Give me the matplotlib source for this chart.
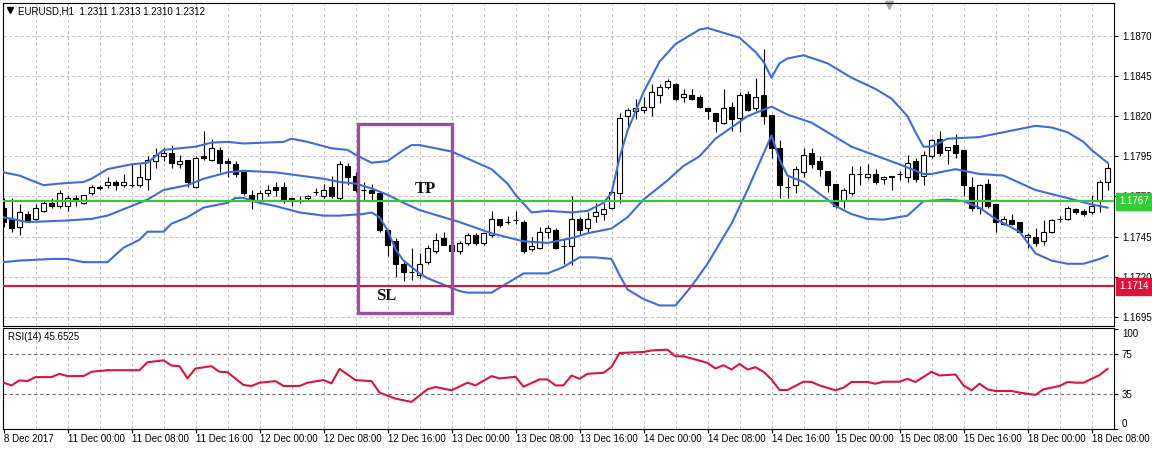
import numpy as np
import matplotlib.pyplot as plt
from matplotlib.patches import Rectangle

plt.rcParams['font.family'] = ['Liberation Sans', 'DejaVu Sans']

# EURUSD H1 candles, bar 0 = 8 Dec 2017 16:00
opens = [1.1763, 1.1756, 1.1751, 1.1759, 1.1756, 1.1761, 1.1766, 1.1764, 1.1764, 1.1769,
         1.1766, 1.1772, 1.1775, 1.1777, 1.1779, 1.1777, 1.1777, 1.1777, 1.1781, 1.1792,
         1.1795, 1.1797, 1.1790, 1.1793, 1.1776, 1.1795, 1.1793, 1.1799, 1.1792, 1.1790,
         1.1785, 1.1771, 1.1768, 1.1772, 1.1776, 1.1776, 1.1769, 1.1767, 1.1769, 1.1773,
         1.1770, 1.1776, 1.1769, 1.1789, 1.1783, 1.1774, 1.1774, 1.1772, 1.1749, 1.1742,
         1.1728, 1.1723, 1.1721, 1.1729, 1.1736, 1.1744, 1.1740, 1.1736, 1.1741, 1.1746,
         1.1741, 1.1746, 1.1756, 1.1754, 1.1755, 1.1754, 1.1737, 1.1738, 1.1748, 1.1749,
         1.1739, 1.1739, 1.1756, 1.1750, 1.1758, 1.1759, 1.1763, 1.1772, 1.1820, 1.1823,
         1.1824, 1.1826, 1.1833, 1.1838, 1.1840, 1.1832, 1.1833, 1.1832, 1.1825, 1.1822,
         1.1816, 1.1826, 1.1819, 1.1834, 1.1825, 1.1833, 1.1821, 1.1800, 1.1776, 1.1777,
         1.1785, 1.1797, 1.1792, 1.1786, 1.1778, 1.1767, 1.1772, 1.1784, 1.1782, 1.1784,
         1.1781, 1.1783, 1.1784, 1.1782, 1.1792, 1.1783, 1.1795, 1.1806, 1.1799, 1.1802,
         1.1799, 1.1776, 1.1763, 1.1778, 1.1765, 1.1753, 1.1755, 1.1754, 1.1745, 1.1745,
         1.1742, 1.1748, 1.1756, 1.1756, 1.1762, 1.1761, 1.1760, 1.1768, 1.1779]
highs = [1.1769, 1.1769, 1.1765, 1.1761, 1.1765, 1.1767, 1.1769, 1.1774, 1.1771, 1.1771,
         1.1771, 1.1777, 1.1777, 1.1782, 1.1780, 1.1784, 1.1790, 1.1790, 1.1795, 1.1800,
         1.1800, 1.1802, 1.1796, 1.1793, 1.1795, 1.1811, 1.1806, 1.1801, 1.1794, 1.1792,
         1.1786, 1.1774, 1.1774, 1.1777, 1.1779, 1.1779, 1.1769, 1.1770, 1.1771, 1.1775,
         1.1778, 1.1783, 1.1792, 1.1791, 1.1785, 1.1779, 1.1778, 1.1773, 1.1749, 1.1744,
         1.1730, 1.1738, 1.1735, 1.1740, 1.1747, 1.1748, 1.1741, 1.1742, 1.1747, 1.1747,
         1.1747, 1.1761, 1.1756, 1.1758, 1.1761, 1.1755, 1.1745, 1.1751, 1.1752, 1.1750,
         1.1744, 1.1770, 1.1757, 1.1760, 1.1766, 1.1766, 1.1776, 1.1822, 1.1825, 1.1831,
         1.1832, 1.1840, 1.1840, 1.1843, 1.1841, 1.1837, 1.1837, 1.1833, 1.1825, 1.1822,
         1.1837, 1.1829, 1.1835, 1.1836, 1.1844, 1.1862, 1.1821, 1.1805, 1.1782, 1.1789,
         1.1800, 1.1800, 1.1795, 1.1786, 1.1778, 1.1775, 1.1789, 1.1789, 1.1790, 1.1787,
         1.1783, 1.1783, 1.1786, 1.1796, 1.1794, 1.1798, 1.1806, 1.1811, 1.1801, 1.1809,
         1.1799, 1.1782, 1.1778, 1.1781, 1.1765, 1.1758, 1.1759, 1.1754, 1.1747, 1.1750,
         1.1755, 1.1756, 1.1758, 1.1764, 1.1763, 1.1762, 1.1771, 1.1780, 1.1791]
lows = [1.1751, 1.1748, 1.1746, 1.1754, 1.1755, 1.1760, 1.1763, 1.1763, 1.1761, 1.1764,
        1.1765, 1.1771, 1.1774, 1.1775, 1.1774, 1.1776, 1.1776, 1.1776, 1.1774, 1.1788,
        1.1792, 1.1788, 1.1788, 1.1776, 1.1775, 1.1793, 1.1792, 1.1785, 1.1782, 1.1782,
        1.1771, 1.1762, 1.1767, 1.1770, 1.1770, 1.1766, 1.1764, 1.1766, 1.1768, 1.1771,
        1.1769, 1.1769, 1.1768, 1.1777, 1.1773, 1.1768, 1.1768, 1.1748, 1.1733, 1.1720,
        1.1717, 1.1718, 1.1719, 1.1728, 1.1735, 1.1740, 1.1735, 1.1734, 1.1740, 1.1740,
        1.1740, 1.1745, 1.1751, 1.1753, 1.1753, 1.1735, 1.1736, 1.1737, 1.1744, 1.1737,
        1.1728, 1.1727, 1.1746, 1.1747, 1.1754, 1.1755, 1.1762, 1.1766, 1.1812, 1.1818,
        1.1822, 1.1820, 1.1828, 1.1837, 1.1830, 1.1829, 1.1830, 1.1825, 1.1818, 1.1810,
        1.1815, 1.1811, 1.1810, 1.1823, 1.1823, 1.1815, 1.1794, 1.1769, 1.1769, 1.1772,
        1.1782, 1.1788, 1.1783, 1.1773, 1.1763, 1.1763, 1.1771, 1.1777, 1.1781, 1.1778,
        1.1778, 1.1774, 1.1780, 1.1779, 1.1779, 1.1777, 1.1794, 1.1795, 1.1790, 1.1794,
        1.1770, 1.1761, 1.1759, 1.1763, 1.1748, 1.1752, 1.1752, 1.1747, 1.1738, 1.1739,
        1.1740, 1.1747, 1.1754, 1.1755, 1.1759, 1.1758, 1.1759, 1.1760, 1.1774]
closes = [1.1754, 1.1750, 1.1760, 1.1755, 1.1763, 1.1766, 1.1764, 1.1772, 1.1769, 1.1767,
          1.1771, 1.1776, 1.1776, 1.1779, 1.1777, 1.1779, 1.1777, 1.1782, 1.1793, 1.1796,
          1.1797, 1.1791, 1.1792, 1.1779, 1.1794, 1.1794, 1.1800, 1.1791, 1.1791, 1.1784,
          1.1772, 1.1767, 1.1772, 1.1774, 1.1774, 1.1767, 1.1767, 1.1767, 1.1770, 1.1773,
          1.1774, 1.1770, 1.1790, 1.1782, 1.1774, 1.1774, 1.1772, 1.1749, 1.1740, 1.1728,
          1.1723, 1.1723, 1.1728, 1.1738, 1.1743, 1.1740, 1.1736, 1.1741, 1.1746, 1.1741,
          1.1747, 1.1756, 1.1752, 1.1754, 1.1755, 1.1736, 1.1739, 1.1748, 1.1750, 1.1738,
          1.1739, 1.1756, 1.1749, 1.1756, 1.1760, 1.1762, 1.1773, 1.1819, 1.1824, 1.1825,
          1.1826, 1.1835, 1.1838, 1.1842, 1.1831, 1.1834, 1.1831, 1.1826, 1.1823, 1.1817,
          1.1825, 1.1818, 1.1833, 1.1824, 1.1832, 1.1820, 1.1800, 1.1777, 1.1776, 1.1787,
          1.1796, 1.1790, 1.1787, 1.1777, 1.1764, 1.1774, 1.1784, 1.1784, 1.1784, 1.1779,
          1.1782, 1.1782, 1.1784, 1.1791, 1.1781, 1.1796, 1.1805, 1.1797, 1.1801, 1.1797,
          1.1777, 1.1763, 1.1777, 1.1764, 1.1754, 1.1756, 1.1753, 1.1748, 1.1746, 1.1741,
          1.1748, 1.1755, 1.1756, 1.1763, 1.1760, 1.1759, 1.1764, 1.1779, 1.1788]

# Bollinger bands, read at turning points (bar, price)
upper_bar = [0, 2, 5, 7, 10, 11, 13, 16, 18, 19, 20, 24, 26, 28, 30, 35, 36, 38, 41, 43,
             44, 46, 48, 50, 51, 52, 56, 61, 63, 64, 66, 68, 71, 73, 75, 76, 77, 78, 80, 82,
             84, 87, 88, 90, 92, 94, 95, 96, 97, 98, 100, 103, 106, 109, 111, 113, 114, 115, 116, 118,
             122, 125, 129, 131, 133, 135, 136, 138]
upper_band = [1.1785, 1.1783, 1.1777, 1.1778, 1.1779, 1.1781, 1.1787, 1.1790, 1.1791, 1.1795,
              1.1799, 1.1801, 1.18035, 1.1804, 1.1803, 1.1804, 1.1806, 1.1804, 1.1800, 1.1799,
              1.1796, 1.1791, 1.1792, 1.1799, 1.1802, 1.1802, 1.1798, 1.1787, 1.1778, 1.1771,
              1.1760, 1.1761, 1.1760, 1.1761, 1.1766, 1.1772, 1.1794, 1.1811, 1.1835, 1.1854,
              1.1865, 1.1874, 1.1875, 1.1872, 1.1869, 1.1860, 1.1854, 1.1844, 1.1853, 1.1856,
              1.1858, 1.1853, 1.1844, 1.1837, 1.1831, 1.1820, 1.1810, 1.1801, 1.1801, 1.1806,
              1.1807, 1.1810, 1.1814, 1.1813, 1.1810, 1.1804, 1.1799, 1.1791]
middle_bar = [0, 3, 8, 11, 13, 16, 18, 20, 23, 25, 28, 30, 34, 37, 40, 42, 44, 46, 48, 50,
              52, 55, 57, 61, 65, 68, 71, 73, 76, 78, 80, 83, 85, 87, 89, 93, 96, 98, 101, 104,
              106, 109, 112, 115, 116, 119, 120, 122, 125, 129, 133, 136, 138]
middle_band = [1.1757, 1.1754, 1.1755, 1.1756, 1.1758, 1.1764, 1.1768, 1.1774, 1.1777, 1.1781,
               1.1785, 1.1786, 1.1785, 1.1783, 1.1781, 1.1779, 1.1778, 1.1775, 1.1771, 1.1766,
               1.17615, 1.1757, 1.1754, 1.1747, 1.1742, 1.1741, 1.1744, 1.1747, 1.1750, 1.1757,
               1.1768, 1.1780, 1.1789, 1.1795, 1.1806, 1.1820, 1.1826, 1.1821, 1.1816, 1.1807,
               1.1801, 1.17955, 1.1790, 1.1784, 1.1784, 1.1787, 1.1786, 1.1784, 1.1783, 1.1774,
               1.1769, 1.1765, 1.1763]
lower_bar = [0, 2, 6, 8, 10, 13, 15, 17, 18, 20, 21, 23, 25, 28, 29, 30, 32, 34, 37, 40,
             42, 45, 46, 47, 48, 49, 50, 52, 53, 55, 57, 58, 61, 63, 65, 68, 70, 72, 74, 76,
             77, 78, 80, 82, 84, 86, 88, 91, 93, 96, 97, 98, 100, 103, 104, 106, 108, 110, 113, 115,
             118, 120, 122, 124, 127, 129, 131, 133, 135, 137, 138]
lower_band = [1.1729, 1.1730, 1.1731, 1.1731, 1.1729, 1.1729, 1.1738, 1.1743, 1.1748, 1.1748,
              1.1753, 1.1757, 1.1763, 1.1766, 1.1769, 1.1769, 1.1766, 1.1764, 1.1760, 1.1758,
              1.1758, 1.1759, 1.1760, 1.1757, 1.1749, 1.1737, 1.1730, 1.1722, 1.1719, 1.1715,
              1.1711, 1.1710, 1.1710, 1.1716, 1.1722, 1.1722, 1.1726, 1.1732, 1.1732, 1.1731,
              1.1721, 1.1712, 1.1706, 1.1702, 1.1702, 1.1714, 1.1728, 1.1753, 1.1774, 1.1808,
              1.1793, 1.1783, 1.1779, 1.1768, 1.1764, 1.1759, 1.1756, 1.17555, 1.1758, 1.1767,
              1.1768, 1.1767, 1.1763, 1.1756, 1.1748, 1.17345, 1.1730, 1.1728, 1.1728, 1.1731,
              1.1733]

# RSI(14)
rsi_bar = [0, 1, 2, 3, 4, 6, 7, 8, 10, 11, 13, 17, 18, 20, 21, 22, 23, 24, 26, 27,
           28, 30, 31, 32, 34, 35, 37, 38, 40, 41, 42, 44, 46, 47, 49, 51, 53, 54, 56, 58,
           59, 61, 62, 64, 65, 67, 68, 69, 70, 71, 72, 73, 75, 76, 77, 80, 81, 83, 84, 85,
           87, 88, 89, 90, 91, 92, 93, 94, 95, 96, 97, 98, 100, 101, 102, 104, 105, 106, 108, 109,
           110, 112, 113, 114, 116, 117, 119, 120, 121, 122, 123, 124, 126, 127, 129, 130, 132, 133, 134, 135,
           137, 138]
rsi_val = [46.3, 43.6, 48.6, 47.9, 51.9, 51.9, 55.2, 52.9, 52.9, 57.2, 58.8, 58.8, 66.7, 68.7, 63.4, 62.8, 50.6, 60.5, 62.8, 57.2,
           56.8, 44.0, 43.0, 46.3, 47.9, 43.0, 43.0, 46.3, 48.9, 45.6, 60.1, 48.9, 47.9, 36.4, 30.4, 27.1, 39.7, 42.0, 38.7, 46.3,
           43.6, 52.9, 50.6, 52.2, 42.3, 49.6, 49.6, 43.6, 43.6, 53.5, 50.2, 55.2, 56.2, 62.1, 76.0, 77.0, 78.6, 79.3, 72.7, 72.7,
           68.4, 66.1, 60.5, 63.8, 59.5, 65.1, 59.5, 61.8, 57.2, 49.6, 39.0, 39.0, 47.3, 47.0, 43.6, 38.7, 41.3, 47.0, 47.0, 45.3,
           47.3, 47.3, 50.2, 47.0, 57.2, 53.5, 54.5, 43.6, 38.7, 45.3, 39.7, 38.0, 38.0, 36.4, 34.1, 39.7, 43.0, 47.0, 46.3, 46.3,
           53.9, 60.1]

price_levels = [1.1695, 1.1720, 1.1745, 1.1770, 1.1795, 1.1820, 1.1845, 1.1870]
rsi_levels = [0, 35, 75, 100]
time_bars = [0, 8, 16, 24, 32, 40, 48, 56, 64, 72, 80, 88, 96, 104, 112, 120, 128, 136]
time_labels = ['8 Dec 2017', '11 Dec 00:00', '11 Dec 08:00', '11 Dec 16:00', '12 Dec 00:00',
               '12 Dec 08:00', '12 Dec 16:00', '13 Dec 00:00', '13 Dec 08:00', '13 Dec 16:00',
               '14 Dec 00:00', '14 Dec 08:00', '14 Dec 16:00', '15 Dec 00:00', '15 Dec 08:00',
               '15 Dec 16:00', '18 Dec 00:00', '18 Dec 08:00']
tp_price = 1.1767
sl_price = 1.1714

# trade box drawn on the chart (bars / prices)
box_left, box_right = 44.35, 56.1
box_low, box_high = 1.16971, 1.18150

FS = 7.0
W, H = 1152, 449
fig = plt.figure(figsize=(W / 100, H / 100), dpi=100)
ax = fig.add_axes([2.5 / W, 1 - 326 / H, 1111 / W, 323.5 / H])
rsi_ax = fig.add_axes([2.5 / W, 1 - 429 / H, 1111 / W, 101 / H])

grid_kw = dict(color='#c4c4c4', lw=0.75, ls=(0, (3, 2.5)), zorder=0)
for lvl in price_levels:
    ax.axhline(lvl, **grid_kw)
for g in range(4, 139, 4):
    ax.axvline(g, **grid_kw)
    rsi_ax.axvline(g, **grid_kw)

# candles
bars = np.arange(len(opens))
o = np.array(opens)
c = np.array(closes)
ax.vlines(bars, lows, highs, color='black', lw=0.8, zorder=2)
body_colors = ['white' if cc >= oo else 'black' for oo, cc in zip(o, c)]
ax.bar(bars, c - o, bottom=o, width=0.55, color=body_colors, edgecolor='black',
       linewidth=0.8, zorder=3)

# bollinger bands
blue = '#4169e1'
ax.plot(upper_bar, upper_band, color=blue, lw=1.5, zorder=4)
ax.plot(middle_bar, middle_band, color=blue, lw=1.5, zorder=4)
ax.plot(lower_bar, lower_band, color=blue, lw=1.5, zorder=4)

ax.axhline(tp_price, color='#32cd32', lw=1.5, zorder=5)
ax.axhline(sl_price, color='#dc143c', lw=1.5, zorder=5)

ax.add_patch(Rectangle((box_left, box_low), box_right - box_left, box_high - box_low,
                       fill=False, edgecolor='#9b4f9f', lw=2.4, zorder=6))
ax.text(52.7, 1.17746, 'TP', family='Liberation Serif', fontweight='bold', fontsize=12,
        color='#111111', ha='center', va='center', zorder=7)
ax.text(47.9, 1.17079, 'SL', family='Liberation Serif', fontweight='bold', fontsize=12,
        color='#111111', ha='center', va='center', zorder=7)

ax.set_xlim(-0.125, 138.75)
ax.set_ylim(1.16892, 1.18909)
ax.set_xticks([])
ax.yaxis.tick_right()
ax.set_yticks(price_levels)
ax.set_yticklabels([f'{v:.4f}' for v in price_levels])
ax.tick_params(axis='y', direction='out', length=3, width=0.8, pad=3, labelsize=FS)

# price tags on the right axis
for price, col in [(tp_price, '#32cd32'), (sl_price, '#dc143c')]:
    ax.annotate(f'{price:.4f}', xy=(1.0, price), xycoords=('axes fraction', 'data'),
                xytext=(6, 0), textcoords='offset pixels', ha='left', va='center',
                fontsize=FS, color='white', annotation_clip=False, zorder=10,
                bbox=dict(boxstyle='square,pad=0.35', fc=col, ec=col))

ax.text(15.5 / 1111, 1 - 8.5 / 323.5, 'EURUSD,H1  1.2311 1.2313 1.2310 1.2312',
        transform=ax.transAxes, fontsize=FS, ha='left', va='center')
ax.plot([7.5 / 1111], [1 - 7.5 / 323.5], marker='v', color='black', markersize=4,
        transform=ax.transAxes, clip_on=False)
ax.plot([886.5 / 1111], [1 - 2.5 / 323.5], marker='v', color='#a8a8a8', markersize=6,
        transform=ax.transAxes, clip_on=False)

# RSI panel
rsi_ax.axhline(75, color='#6e6e6e', lw=0.8, ls=(0, (3, 2.5)), zorder=1)
rsi_ax.axhline(35, color='#6e6e6e', lw=0.8, ls=(0, (3, 2.5)), zorder=1)
rsi_ax.plot(rsi_bar, rsi_val, color='#dc143c', lw=1.5, zorder=3)
rsi_ax.set_xlim(-0.125, 138.75)
rsi_ax.set_ylim(0, 101)
rsi_ax.yaxis.tick_right()
rsi_ax.set_yticks(rsi_levels)
rsi_ax.set_yticklabels([str(v) for v in rsi_levels])
rsi_ax.tick_params(axis='y', direction='out', length=3, width=0.8, pad=3, labelsize=FS)
ylabels = rsi_ax.get_yticklabels()
ylabels[0].set_va('bottom')
ylabels[-1].set_va('top')
rsi_ax.set_xticks(time_bars)
rsi_ax.set_xticklabels([])
rsi_ax.tick_params(axis='x', direction='out', length=3, width=0.8)
for b, lbl in zip(time_bars, time_labels):
    rsi_ax.annotate(lbl, xy=(b, 0), xycoords=('data', 'axes fraction'), xytext=(0, -9.5),
                    textcoords='offset pixels', ha='left', va='center', fontsize=FS,
                    annotation_clip=False)
rsi_ax.text(5 / 1111, 1 - 9 / 101, 'RSI(14) 45.6525', transform=rsi_ax.transAxes,
            fontsize=FS, ha='left', va='center')

for a in (ax, rsi_ax):
    for sp in a.spines.values():
        sp.set_color('black')
        sp.set_linewidth(0.8)

fig.savefig('out.png', dpi=100)
